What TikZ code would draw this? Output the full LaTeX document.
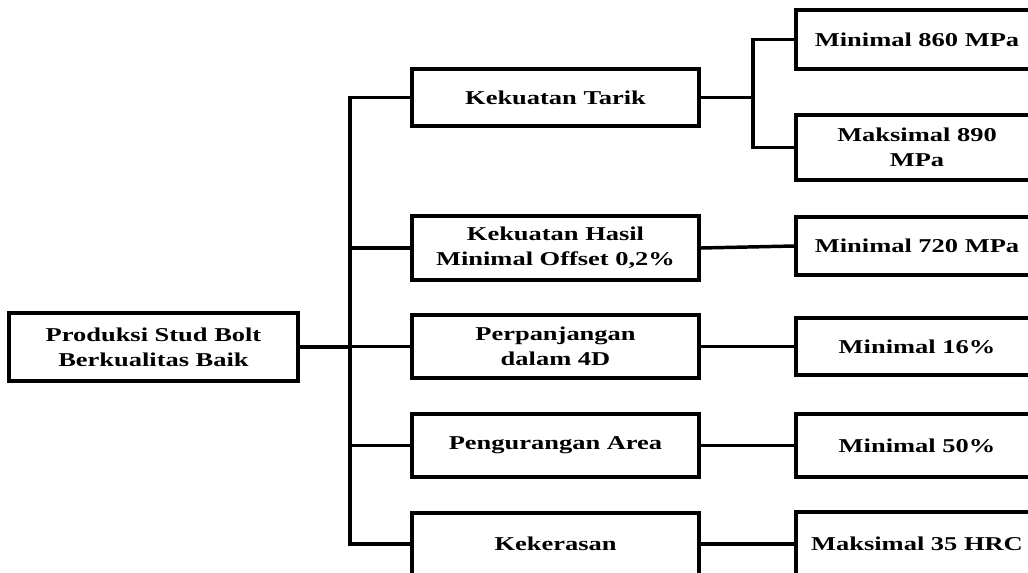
\documentclass[tikz,border=0pt]{standalone}
\usepackage{fontspec}
\setmainfont{Liberation Serif}[FakeStretch=1.35]
\tikzset{
	blok/.style={draw=black, line width=2.6pt, fill=white, inner sep=0pt, align=center,
		font=\fontsize{14.7}{18.75}\selectfont\bfseries},
	tengah/.style={blok, minimum width=215.25pt},
	kanan/.style={blok, minimum width=181.5pt},
	garis/.style={line width=2.6pt}
}
\begin{document}
\begin{tikzpicture}[x=0.75pt,y=-0.75pt]
				\useasboundingbox (0,0) rectangle (1028,572);
				
				% akar
				\node[blok, minimum width=216.75pt, minimum height=51pt] (akar) at (153.5,347) {Produksi Stud Bolt\\Berkualitas Baik};
				
				% parameter
				\node[tengah, minimum height=42.75pt] (tarik) at (555.5,97.5) {Kekuatan Tarik};
				\node[tengah, minimum height=48pt] (hasil) at (555.5,248) {Kekuatan Hasil\\Minimal Offset 0,2\%};
				\node[tengah, minimum height=47.25pt] (panjang) at (555.5,346.5) {Perpanjangan\\dalam 4D};
				\node[tengah, minimum height=47.25pt] (area) at (555.5,445.5) {Pengurangan Area};
				\node[tengah, minimum height=46.5pt] (keras) at (555.5,544) {Kekerasan};
				
				% nilai
				\node[kanan, minimum height=44.25pt] (tarikmin) at (917,39.5) {Minimal 860 MPa};
				\node[kanan, minimum height=48.75pt] (tarikmaks) at (917,147.5) {Maksimal 890\\MPa};
				\node[kanan, minimum height=43.5pt] (hasilmin) at (917,246) {Minimal 720 MPa};
				\node[kanan, minimum height=42.75pt] (panjangmin) at (917,346.5) {Minimal 16\%};
				\node[kanan, minimum height=47.25pt] (areamin) at (917,445.5) {Minimal 50\%};
				\node[kanan, minimum height=48pt] (kerasmaks) at (917,544) {Maksimal 35 HRC};
				
				\coordinate (batang) at (350,347);
				\coordinate (cabang) at (753,97.5);
				
				\draw[garis] (akar.east) -- (batang);
				\draw[garis] (tarik.west) -| (batang) |- (keras.west);
				\foreach \n in {hasil,panjang,area}{
					\draw[garis] (\n.west) -- (\n.west -| batang);
				}
				
				\draw[garis] (tarik.east) -- (cabang);
				\draw[garis] (tarikmin.west) -| (cabang) |- (tarikmaks.west);
				\draw[garis] (hasil.east) -- (hasilmin.west);
				\draw[garis] (panjang.east) -- (panjangmin.west);
				\draw[garis] (area.east) -- (areamin.west);
				\draw[garis] (keras.east) -- (kerasmaks.west);
			\end{tikzpicture}
\end{document}
